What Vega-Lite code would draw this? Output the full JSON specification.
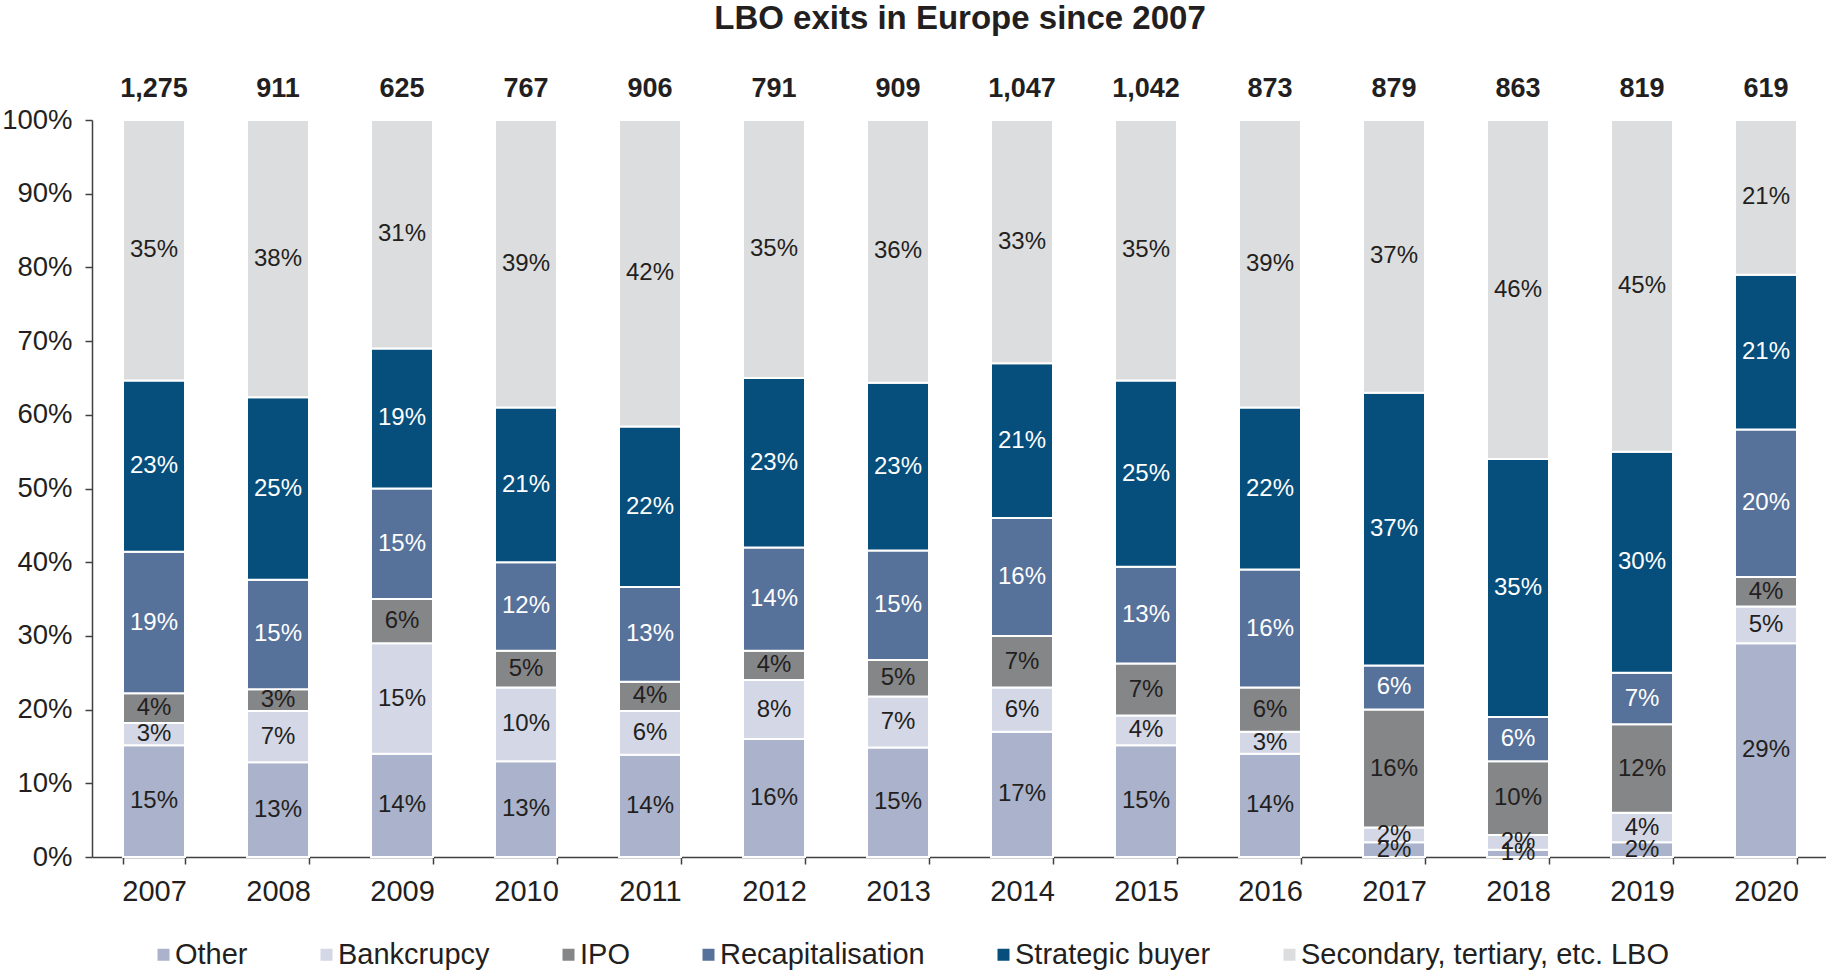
{
  "$schema": "https://vega.github.io/schema/vega-lite/v6.json",
  "width": 1736,
  "height": 737,
  "autosize": {"type": "none"},
  "padding": {"left": 92, "top": 120, "right": 0, "bottom": 113},
  "background": "white",
  "title": {
    "text": "LBO exits in Europe since 2007",
    "fontSize": 33,
    "fontWeight": "bold",
    "font": "Liberation Sans",
    "color": "#231f20",
    "anchor": "middle",
    "offset": 39
  },
  "config": {
    "view": {"stroke": null},
    "font": "Liberation Sans",
    "axis": {
      "labelFont": "Liberation Sans",
      "labelColor": "#231f20",
      "domainColor": "#404040",
      "tickColor": "#404040",
      "domainWidth": 1.5,
      "tickWidth": 1.5,
      "grid": false,
      "title": null
    }
  },
  "datasets": {
    "shares": [
      {"year": "2007", "type": "Other", "k": 1, "share": 0.15},
      {"year": "2007", "type": "Bankcrupcy", "k": 2, "share": 0.03},
      {"year": "2007", "type": "IPO", "k": 3, "share": 0.04},
      {"year": "2007", "type": "Recapitalisation", "k": 4, "share": 0.19},
      {"year": "2007", "type": "Strategic buyer", "k": 5, "share": 0.23},
      {"year": "2007", "type": "Secondary, tertiary, etc. LBO", "k": 6, "share": 0.35},
      {"year": "2008", "type": "Other", "k": 1, "share": 0.13},
      {"year": "2008", "type": "Bankcrupcy", "k": 2, "share": 0.07},
      {"year": "2008", "type": "IPO", "k": 3, "share": 0.03},
      {"year": "2008", "type": "Recapitalisation", "k": 4, "share": 0.15},
      {"year": "2008", "type": "Strategic buyer", "k": 5, "share": 0.25},
      {"year": "2008", "type": "Secondary, tertiary, etc. LBO", "k": 6, "share": 0.38},
      {"year": "2009", "type": "Other", "k": 1, "share": 0.14},
      {"year": "2009", "type": "Bankcrupcy", "k": 2, "share": 0.15},
      {"year": "2009", "type": "IPO", "k": 3, "share": 0.06},
      {"year": "2009", "type": "Recapitalisation", "k": 4, "share": 0.15},
      {"year": "2009", "type": "Strategic buyer", "k": 5, "share": 0.19},
      {"year": "2009", "type": "Secondary, tertiary, etc. LBO", "k": 6, "share": 0.31},
      {"year": "2010", "type": "Other", "k": 1, "share": 0.13},
      {"year": "2010", "type": "Bankcrupcy", "k": 2, "share": 0.10},
      {"year": "2010", "type": "IPO", "k": 3, "share": 0.05},
      {"year": "2010", "type": "Recapitalisation", "k": 4, "share": 0.12},
      {"year": "2010", "type": "Strategic buyer", "k": 5, "share": 0.21},
      {"year": "2010", "type": "Secondary, tertiary, etc. LBO", "k": 6, "share": 0.39},
      {"year": "2011", "type": "Other", "k": 1, "share": 0.14},
      {"year": "2011", "type": "Bankcrupcy", "k": 2, "share": 0.06},
      {"year": "2011", "type": "IPO", "k": 3, "share": 0.04},
      {"year": "2011", "type": "Recapitalisation", "k": 4, "share": 0.13},
      {"year": "2011", "type": "Strategic buyer", "k": 5, "share": 0.22},
      {"year": "2011", "type": "Secondary, tertiary, etc. LBO", "k": 6, "share": 0.42},
      {"year": "2012", "type": "Other", "k": 1, "share": 0.16},
      {"year": "2012", "type": "Bankcrupcy", "k": 2, "share": 0.08},
      {"year": "2012", "type": "IPO", "k": 3, "share": 0.04},
      {"year": "2012", "type": "Recapitalisation", "k": 4, "share": 0.14},
      {"year": "2012", "type": "Strategic buyer", "k": 5, "share": 0.23},
      {"year": "2012", "type": "Secondary, tertiary, etc. LBO", "k": 6, "share": 0.35},
      {"year": "2013", "type": "Other", "k": 1, "share": 0.15},
      {"year": "2013", "type": "Bankcrupcy", "k": 2, "share": 0.07},
      {"year": "2013", "type": "IPO", "k": 3, "share": 0.05},
      {"year": "2013", "type": "Recapitalisation", "k": 4, "share": 0.15},
      {"year": "2013", "type": "Strategic buyer", "k": 5, "share": 0.23},
      {"year": "2013", "type": "Secondary, tertiary, etc. LBO", "k": 6, "share": 0.36},
      {"year": "2014", "type": "Other", "k": 1, "share": 0.17},
      {"year": "2014", "type": "Bankcrupcy", "k": 2, "share": 0.06},
      {"year": "2014", "type": "IPO", "k": 3, "share": 0.07},
      {"year": "2014", "type": "Recapitalisation", "k": 4, "share": 0.16},
      {"year": "2014", "type": "Strategic buyer", "k": 5, "share": 0.21},
      {"year": "2014", "type": "Secondary, tertiary, etc. LBO", "k": 6, "share": 0.33},
      {"year": "2015", "type": "Other", "k": 1, "share": 0.15},
      {"year": "2015", "type": "Bankcrupcy", "k": 2, "share": 0.04},
      {"year": "2015", "type": "IPO", "k": 3, "share": 0.07},
      {"year": "2015", "type": "Recapitalisation", "k": 4, "share": 0.13},
      {"year": "2015", "type": "Strategic buyer", "k": 5, "share": 0.25},
      {"year": "2015", "type": "Secondary, tertiary, etc. LBO", "k": 6, "share": 0.35},
      {"year": "2016", "type": "Other", "k": 1, "share": 0.14},
      {"year": "2016", "type": "Bankcrupcy", "k": 2, "share": 0.03},
      {"year": "2016", "type": "IPO", "k": 3, "share": 0.06},
      {"year": "2016", "type": "Recapitalisation", "k": 4, "share": 0.16},
      {"year": "2016", "type": "Strategic buyer", "k": 5, "share": 0.22},
      {"year": "2016", "type": "Secondary, tertiary, etc. LBO", "k": 6, "share": 0.39},
      {"year": "2017", "type": "Other", "k": 1, "share": 0.02},
      {"year": "2017", "type": "Bankcrupcy", "k": 2, "share": 0.02},
      {"year": "2017", "type": "IPO", "k": 3, "share": 0.16},
      {"year": "2017", "type": "Recapitalisation", "k": 4, "share": 0.06},
      {"year": "2017", "type": "Strategic buyer", "k": 5, "share": 0.37},
      {"year": "2017", "type": "Secondary, tertiary, etc. LBO", "k": 6, "share": 0.37},
      {"year": "2018", "type": "Other", "k": 1, "share": 0.01},
      {"year": "2018", "type": "Bankcrupcy", "k": 2, "share": 0.02},
      {"year": "2018", "type": "IPO", "k": 3, "share": 0.10},
      {"year": "2018", "type": "Recapitalisation", "k": 4, "share": 0.06},
      {"year": "2018", "type": "Strategic buyer", "k": 5, "share": 0.35},
      {"year": "2018", "type": "Secondary, tertiary, etc. LBO", "k": 6, "share": 0.46},
      {"year": "2019", "type": "Other", "k": 1, "share": 0.02},
      {"year": "2019", "type": "Bankcrupcy", "k": 2, "share": 0.04},
      {"year": "2019", "type": "IPO", "k": 3, "share": 0.12},
      {"year": "2019", "type": "Recapitalisation", "k": 4, "share": 0.07},
      {"year": "2019", "type": "Strategic buyer", "k": 5, "share": 0.30},
      {"year": "2019", "type": "Secondary, tertiary, etc. LBO", "k": 6, "share": 0.45},
      {"year": "2020", "type": "Other", "k": 1, "share": 0.29},
      {"year": "2020", "type": "Bankcrupcy", "k": 2, "share": 0.05},
      {"year": "2020", "type": "IPO", "k": 3, "share": 0.04},
      {"year": "2020", "type": "Recapitalisation", "k": 4, "share": 0.20},
      {"year": "2020", "type": "Strategic buyer", "k": 5, "share": 0.21},
      {"year": "2020", "type": "Secondary, tertiary, etc. LBO", "k": 6, "share": 0.21}
    ],
    "totals": [
      {"year": "2007", "n": 1275},
      {"year": "2008", "n": 911},
      {"year": "2009", "n": 625},
      {"year": "2010", "n": 767},
      {"year": "2011", "n": 906},
      {"year": "2012", "n": 791},
      {"year": "2013", "n": 909},
      {"year": "2014", "n": 1047},
      {"year": "2015", "n": 1042},
      {"year": "2016", "n": 873},
      {"year": "2017", "n": 879},
      {"year": "2018", "n": 863},
      {"year": "2019", "n": 819},
      {"year": "2020", "n": 619}
    ]
  },
  "encoding": {
    "x": {
      "field": "year",
      "type": "ordinal",
      "scale": {"paddingInner": 0.5, "paddingOuter": 0.25},
      "axis": {
        "labelAngle": 0,
        "labelFontSize": 29,
        "tickBand": "extent",
        "tickSize": 7,
        "labelPadding": 13
      }
    }
  },
  "layer": [
    {
      "data": {"name": "shares"},
      "mark": {"type": "bar", "stroke": "white", "strokeWidth": 2},
      "encoding": {
        "y": {
          "field": "share",
          "type": "quantitative",
          "stack": "normalize",
          "scale": {"domain": [0, 1], "nice": false},
          "axis": {
            "format": ".0%",
            "values": [0, 0.1, 0.2, 0.3, 0.4, 0.5, 0.6, 0.7, 0.8, 0.9, 1],
            "labelFontSize": 27.5,
            "tickSize": 7,
            "labelPadding": 13
          }
        },
        "color": {
          "field": "type",
          "type": "nominal",
          "scale": {
            "domain": ["Other", "Bankcrupcy", "IPO", "Recapitalisation", "Strategic buyer", "Secondary, tertiary, etc. LBO"],
            "range": ["#aab3cb", "#d3d7e6", "#858688", "#56719a", "#064f7c", "#dcdddf"]
          },
          "legend": {
            "title": null,
            "orient": "none",
            "direction": "horizontal",
            "columns": 6,
            "legendX": 57,
            "legendY": 820,
            "symbolType": "square",
            "symbolSize": 144,
            "symbolStrokeWidth": 0,
            "labelFontSize": 29,
            "labelFont": "Liberation Sans",
            "labelColor": "#231f20",
            "labelOffset": -3,
            "columnPadding": 64,
            "padding": 0,
            "labelLimit": 600
          }
        },
        "order": {"field": "k", "type": "quantitative", "sort": "ascending"}
      }
    },
    {
      "data": {"name": "shares"},
      "mark": {"type": "text", "fontSize": 24, "font": "Liberation Sans", "baseline": "middle", "align": "center"},
      "encoding": {
        "y": {"field": "share", "type": "quantitative", "stack": "normalize", "bandPosition": 0.5},
        "detail": {"field": "type"},
        "order": {"field": "k", "type": "quantitative", "sort": "ascending"},
        "text": {"field": "share", "type": "quantitative", "format": ".0%"},
        "color": {
          "condition": {"test": "datum.type === 'Recapitalisation' || datum.type === 'Strategic buyer'", "value": "white"},
          "value": "#231f20"
        }
      }
    },
    {
      "data": {"name": "totals"},
      "mark": {"type": "text", "fontSize": 27, "fontWeight": "bold", "font": "Liberation Sans", "baseline": "middle", "align": "center", "dy": -31, "color": "#231f20"},
      "encoding": {
        "y": {"datum": 1, "type": "quantitative"},
        "text": {"field": "n", "type": "quantitative", "format": ","}
      }
    }
  ]
}
